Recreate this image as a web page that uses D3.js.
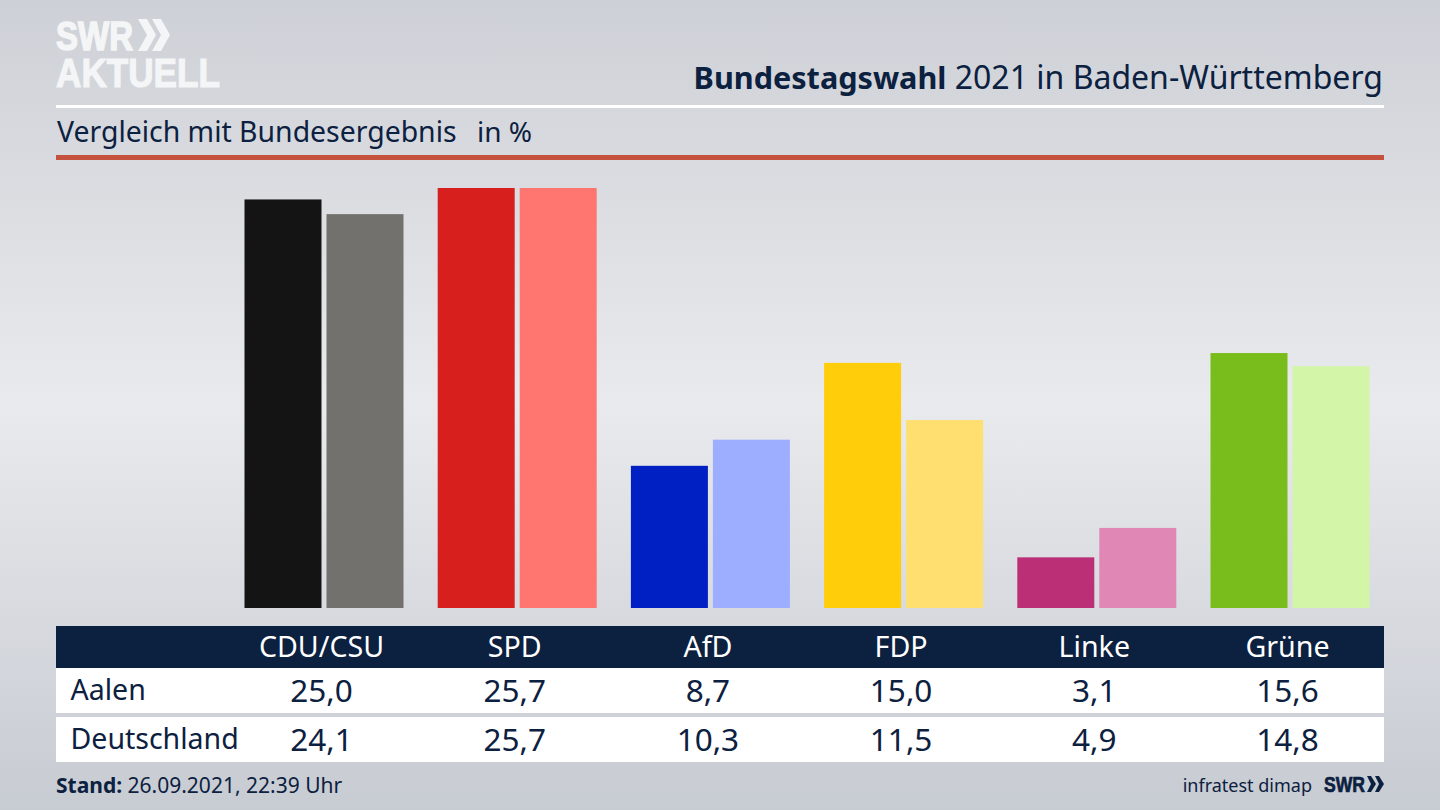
<!DOCTYPE html>
<html>
<head>
<meta charset="utf-8">
<script src="https://d3js.org/d3.v7.min.js"></script>
<style>
  html, body { margin: 0; padding: 0; overflow: hidden; background: #d5d8dd; }
  text { font-family: "Noto Sans", sans-serif; fill: #0c2040; }
</style>
</head>
<body>
<div id="container"></div>
<script>
/* DATA */
const parties = ["CDU/CSU", "SPD", "AfD", "FDP", "Linke", "Grüne"];
const regions = ["Aalen", "Deutschland"];
const aalen = [25.0, 25.7, 8.7, 15.0, 3.1, 15.6];
const deutschland = [24.1, 25.7, 10.3, 11.5, 4.9, 14.8];
const aalenColors = ["#141414", "#d7201e", "#0020c4", "#ffcd0a", "#bb2f76", "#78bd1c"];
const deutschlandColors = ["#72716e", "#ff7570", "#9dadff", "#ffdf70", "#e087b6", "#d3f5a8"];

/* CONSTANTS */
const width = 1440, height = 810;
const navy = "#0c2040";
const logoWhite = "#f4f5f6";
const formatValue = v => v.toFixed(1).replace(".", ",");

const svg = d3.select("#container")
  .append("svg")
  .attr("width", width)
  .attr("height", height)
  .style("display", "block");

// background
const grad = svg.append("defs").append("linearGradient")
  .attr("id", "bg").attr("x1", 0).attr("x2", 0).attr("y1", 0).attr("y2", 1);
[[0, "#cdd0d6"], [0.5, "#e9eaed"], [1, "#c7cbd2"]].forEach(([o, c]) =>
  grad.append("stop").attr("offset", o).attr("stop-color", c));
svg.append("rect").attr("width", width).attr("height", height).attr("fill", "url(#bg)");

// scales
const xCenter = d3.scalePoint().domain(parties).range([321.5, 1287.5]);
const xSeries = d3.scaleBand().domain(regions).range([-77, 82]).paddingInner(0.061);
const y = d3.scaleLinear().domain([0, 25.7]).range([608, 188]);

// bars
const barGroups = svg.selectAll("g.party")
  .data(parties)
  .join("g")
  .attr("class", "party")
  .attr("transform", d => `translate(${xCenter(d)},0)`);

barGroups.append("rect")
  .attr("x", xSeries("Aalen"))
  .attr("width", xSeries.bandwidth())
  .attr("y", (d, i) => y(aalen[i]))
  .attr("height", (d, i) => y(0) - y(aalen[i]))
  .attr("fill", (d, i) => aalenColors[i]);

barGroups.append("rect")
  .attr("x", xSeries("Deutschland"))
  .attr("width", xSeries.bandwidth())
  .attr("y", (d, i) => y(deutschland[i]))
  .attr("height", (d, i) => y(0) - y(deutschland[i]))
  .attr("fill", (d, i) => deutschlandColors[i]);

// header
const title = svg.append("text")
  .attr("x", 1383).attr("y", 89)
  .attr("text-anchor", "end")
  .attr("font-size", 32);
title.append("tspan").attr("font-weight", 700).attr("font-size", 30.6).text("Bundestagswahl");
title.append("tspan").text(" 2021 in Baden-Württemberg");

svg.append("rect").attr("x", 56).attr("y", 105).attr("width", 1328).attr("height", 3).attr("fill", "#fff");

svg.append("text").attr("x", 57).attr("y", 142).attr("font-size", 28.4)
  .text("Vergleich mit Bundesergebnis");
svg.append("text").attr("x", 477).attr("y", 142).attr("font-size", 28).text("in %");

svg.append("rect").attr("x", 56).attr("y", 155).attr("width", 1328).attr("height", 5).attr("fill", "#c5523f");

// logo
const logoText = (txt, x, yPos, size, len, color, sw) => svg.append("text")
  .attr("x", x).attr("y", yPos)
  .attr("font-size", size).attr("font-weight", 700)
  .attr("textLength", len).attr("lengthAdjust", "spacingAndGlyphs")
  .attr("stroke", color).attr("stroke-width", sw)
  .style("fill", color).style("font-family", "Liberation Sans")
  .text(txt);

logoText("SWR", 56, 50, 41, 77, logoWhite, 1.6);
logoText("AKTUELL", 56, 87, 41, 164, logoWhite, 1.2);
svg.append("path").attr("fill", logoWhite).attr("d", "M138,19 L147,19 L156,35 L147,51 L138,51 L147,35 Z");
svg.append("path").attr("fill", logoWhite).attr("d", "M152,19 L161,19 L170,35 L161,51 L152,51 L161,35 Z");

// table
svg.append("rect").attr("x", 56).attr("y", 626).attr("width", 1328).attr("height", 42).attr("fill", navy);
svg.append("rect").attr("x", 56).attr("y", 668).attr("width", 1328).attr("height", 45).attr("fill", "#fff");
svg.append("rect").attr("x", 56).attr("y", 717).attr("width", 1328).attr("height", 45).attr("fill", "#fff");

svg.selectAll("text.head")
  .data(parties)
  .join("text")
  .attr("class", "head")
  .attr("x", d => xCenter(d))
  .attr("y", 657)
  .attr("text-anchor", "middle")
  .attr("font-size", 28.6)
  .style("fill", "#fff")
  .text(d => d);

[aalen, deutschland].forEach((values, r) => {
  const rowY = 702 + r * 49;
  svg.append("text").attr("x", 70.5).attr("y", rowY - 2).attr("font-size", 28.5).text(regions[r]);
  svg.selectAll(`text.val${r}`)
    .data(values)
    .join("text")
    .attr("class", `val${r}`)
    .attr("x", (d, i) => xCenter(parties[i]))
    .attr("y", rowY)
    .attr("text-anchor", "middle")
    .attr("font-size", 31.5)
    .text(d => formatValue(d));
});

// footer
const stand = svg.append("text").attr("x", 56).attr("y", 793).attr("font-size", 21);
stand.append("tspan").attr("font-weight", 700).text("Stand:");
stand.append("tspan").text(" 26.09.2021, 22:39 Uhr");

svg.append("text").attr("x", 1312).attr("y", 792).attr("text-anchor", "end").attr("font-size", 18).text("infratest dimap");
logoText("SWR", 1324, 792, 22, 41, navy, 0.7);
svg.append("path").attr("fill", navy).attr("d", "M1367,776 L1371,776 L1376,784 L1371,792 L1367,792 L1371,784 Z");
svg.append("path").attr("fill", navy).attr("d", "M1375,776 L1379,776 L1384,784 L1379,792 L1375,792 L1379,784 Z");
</script>
</body>
</html>
